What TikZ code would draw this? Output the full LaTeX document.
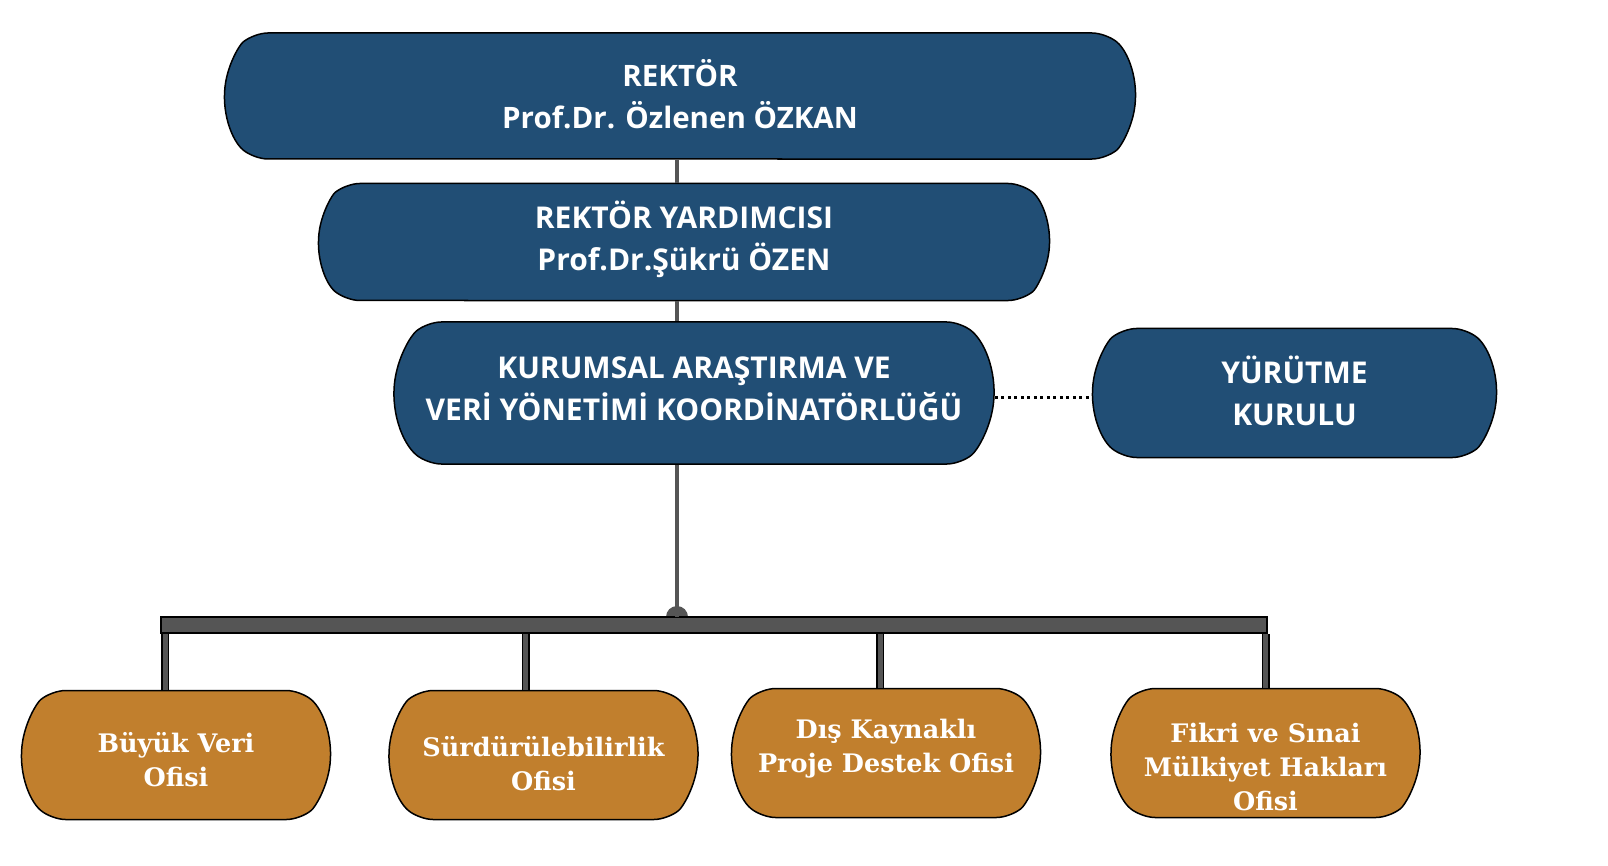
\documentclass[tikz,border=0pt]{standalone}
\usepackage{fontspec}
\setmainfont{Open Sans}
\newfontfamily\officefont{DejaVu Serif}
\usepackage{tikz}
\usetikzlibrary{shapes, positioning, calc}
\definecolor{navy}{HTML}{214E75}
\definecolor{ochre}{HTML}{C17F2D}
\definecolor{bargray}{HTML}{555555}

\begin{document}
\begin{tikzpicture}[
    head/.style={rounded rectangle, rounded rectangle arc length=100, rounded corners=14pt, draw, line width=1.5pt, fill=navy, text=white, align=center, inner sep=0pt, font=\fontsize{30}{42}\selectfont\bfseries},
    office/.style={rounded rectangle, rounded rectangle arc length=100, rounded corners=14pt, draw, line width=1.5pt, fill=ochre, text=white, align=center, inner sep=0pt, minimum width=309pt, minimum height=129pt, font=\officefont\fontsize{25.5}{34}\selectfont\bfseries},
    link/.style={draw=bargray, line width=4pt},
    leg/.style={draw=black, line width=1.5pt, double=bargray, double distance=5pt}
]
    \useasboundingbox (0pt,0pt) rectangle (1608pt,-866pt);

    \node [head, minimum width=911pt, minimum height=126pt, font=\fontsize{29.5}{42}\selectfont\bfseries, text depth=4pt] (rektor) at (680pt,-96pt) {REKTÖR\\Prof.Dr. Özlenen ÖZKAN};
    \node [head, minimum width=731pt, minimum height=117pt, below=23pt of rektor, xshift=4pt, text depth=12pt] (yardimci) {REKTÖR YARDIMCISI\\Prof.Dr.Şükrü ÖZEN};
    \node [head, minimum width=600pt, minimum height=142pt, below=20pt of yardimci, xshift=10pt, text depth=9pt] (koord) {KURUMSAL ARAŞTIRMA VE\\VERİ YÖNETİMİ KOORDİNATÖRLÜĞÜ};
    \node [head, minimum width=404pt, minimum height=129pt, right=97pt of koord, text depth=5pt] (kurul) {YÜRÜTME\\KURULU};

    % offices
    \node [office, text height=63pt] (buyuk) at (176pt,-755pt) {Büyük Veri\\Ofisi};
    \node [office, right=57pt of buyuk, text height=71pt] (surdur) {Sürdürülebilirlik\\Ofisi};
    \node [office, right=32pt of surdur, yshift=2pt, text depth=14pt] (dis) {Dış Kaynaklı\\Proje Destek Ofisi};
    \node [office, right=69pt of dis, text height=115pt] (fikri) {Fikri ve Sınai\\Mülkiyet Hakları\\Ofisi};

    % bar and junction
    \coordinate (dot) at (677pt,-617pt);
    \fill [bargray] (dot) circle (11pt);
    \node [draw, line width=1.5pt, fill=bargray, minimum width=1106pt, minimum height=16pt, inner sep=0pt] (bar) at (714pt,-625pt) {};

    \draw [link] (rektor.south -| dot) -- (yardimci.north -| dot);
    \draw [link] (yardimci.south -| dot) -- (koord.north -| dot);
    \draw [link] (koord.south -| dot) -- (dot);
    \draw [line width=3pt, dash pattern=on 3pt off 3.5pt] ([yshift=-4pt]koord.east) -- ([yshift=-4pt]kurul.west);

    \draw [leg] ($(bar.south -| buyuk)+(-11pt,0)$) -- ($(buyuk.north)+(-11pt,0)$);
    \draw [leg] ($(bar.south -| surdur)+(-18pt,0)$) -- ($(surdur.north)+(-18pt,0)$);
    \draw [leg] ($(bar.south -| dis)+(-6pt,0)$) -- ($(dis.north)+(-6pt,0)$);
    \draw [leg] (bar.south -| fikri) -- (fikri.north);
\end{tikzpicture}
\end{document}
